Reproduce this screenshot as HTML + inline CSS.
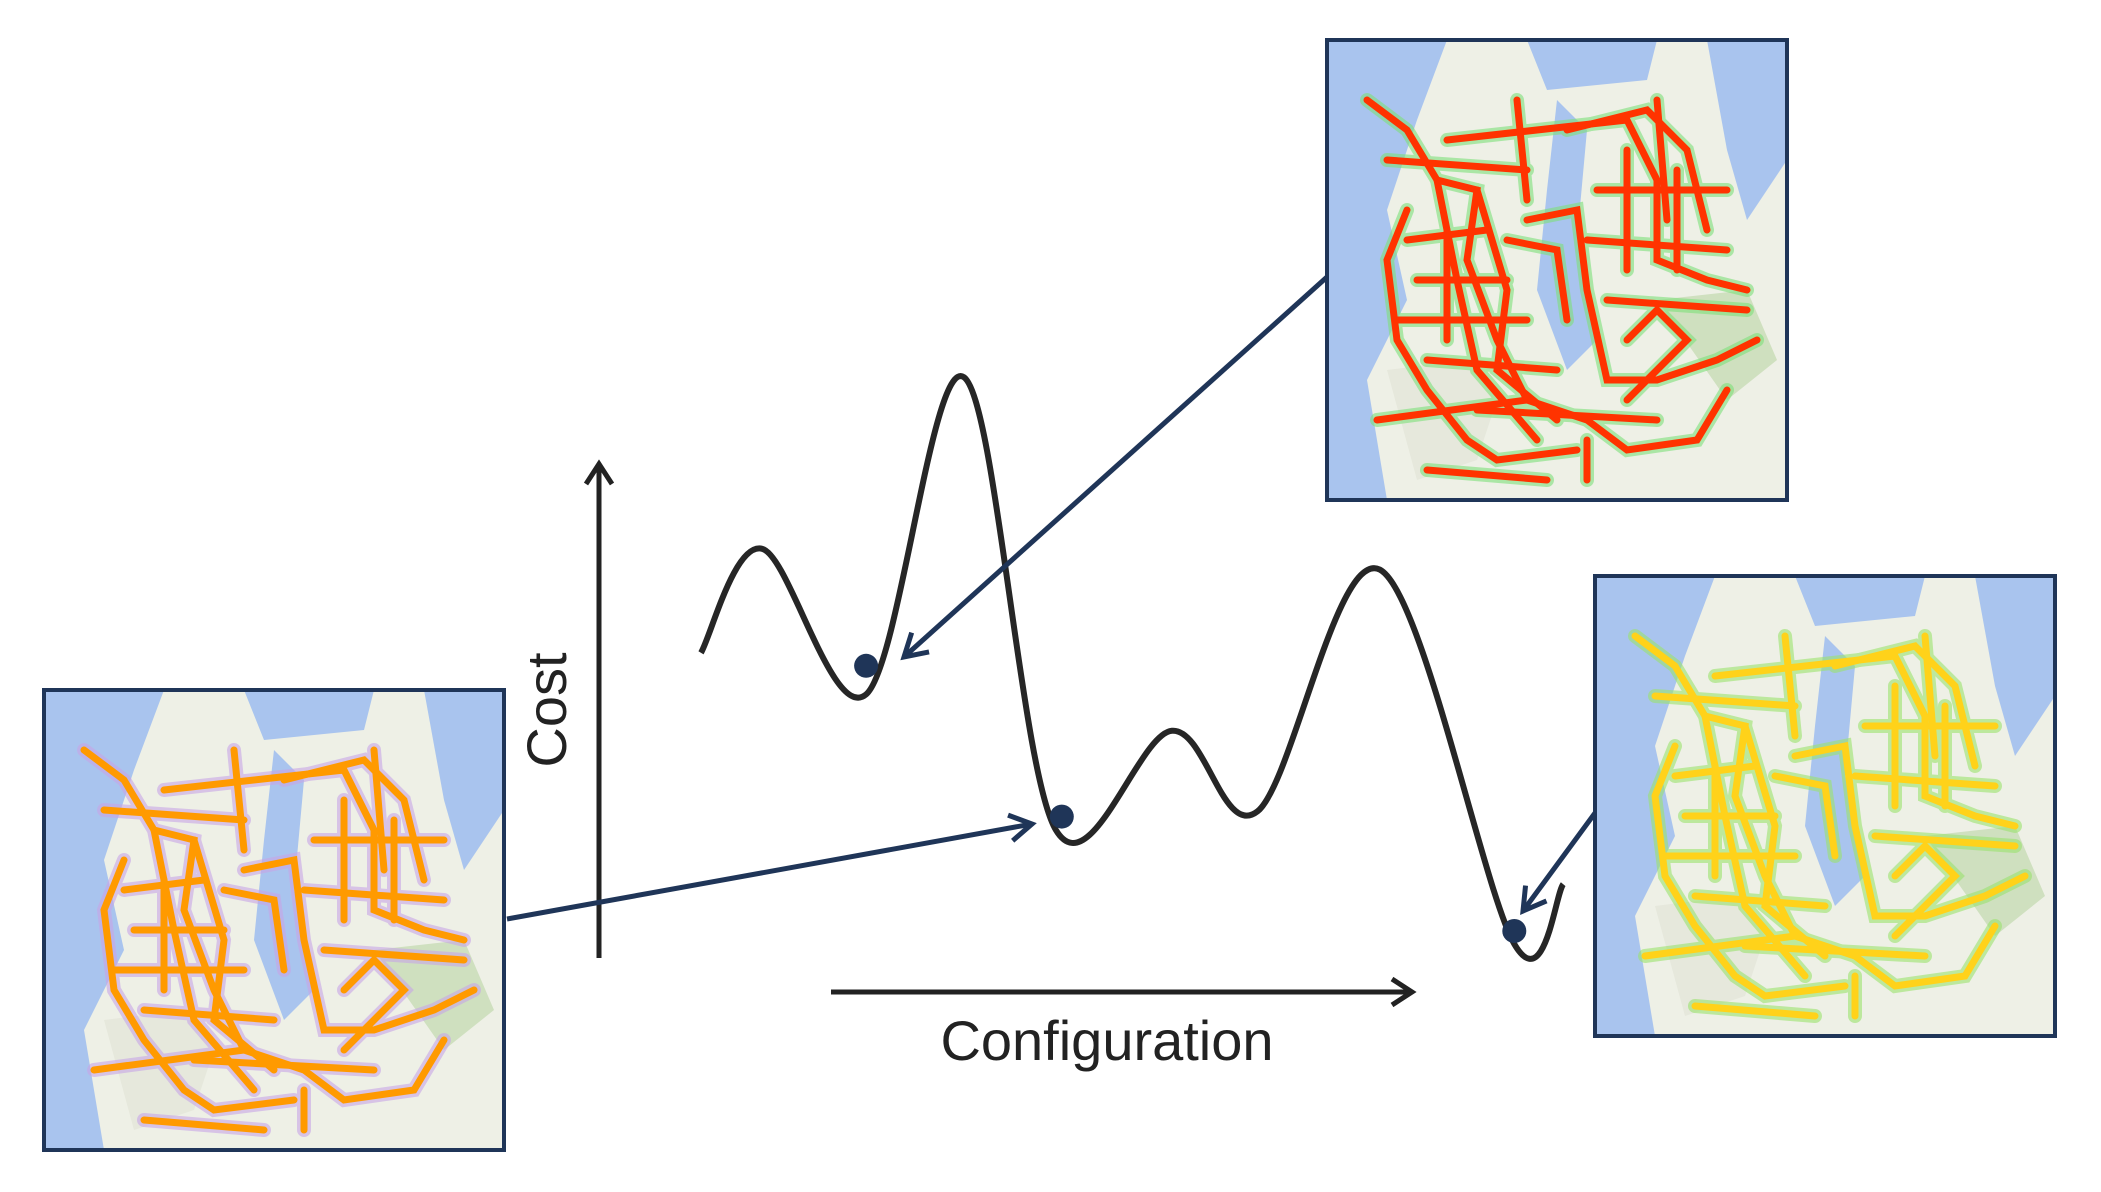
<!DOCTYPE html>
<html><head><meta charset="utf-8"><style>
html,body{margin:0;padding:0;background:#fff;}
svg{display:block;font-family:"Liberation Sans",sans-serif;}
</style></head><body>
<svg id="c" width="2101" height="1192" viewBox="0 0 2101 1192">
<defs>
<marker id="ak" markerWidth="34" markerHeight="34" refX="26" refY="17" orient="auto" markerUnits="userSpaceOnUse" viewBox="0 0 34 34">
<path d="M6,4 L26,17 L6,30" fill="none" stroke="#222" stroke-width="5"/>
</marker>
<marker id="ab" markerWidth="36" markerHeight="36" refX="28" refY="18" orient="auto" markerUnits="userSpaceOnUse" viewBox="0 0 36 36">
<path d="M6,5 L28,18 L6,31" fill="none" stroke="#1f3558" stroke-width="5"/>
</marker>
<g id="mapbase">
<rect x="0" y="0" width="460" height="460" fill="#eef0e6"/>
<path d="M0,0 L120,0 L90,80 L60,170 L80,260 L40,340 L60,460 L0,460 Z" fill="#a9c4ee"/>
<path d="M230,60 L260,90 L250,200 L270,300 L240,330 L210,250 L220,150 Z" fill="#a9c4ee"/>
<path d="M380,0 L460,0 L460,120 L420,180 L400,110 Z" fill="#a9c4ee"/>
<path d="M60,330 L140,320 L170,360 L150,420 L90,440 Z" fill="#e6e8dc"/>
<path d="M330,260 L420,250 L450,320 L400,360 Z" fill="#cfe0bf"/>
<path d="M200,0 L330,0 L320,40 L220,50 Z" fill="#a9c4ee"/>
</g>
<g id="roads" fill="none" stroke-linecap="round">
<path d="M40,60 L80,90 L110,140 L150,150 L140,220 L170,300 L200,360 L260,380 L300,410 L370,400 L400,350"/>
<path d="M80,170 L60,220 L70,300 L100,350 L140,400 L170,420 L250,410"/>
<path d="M120,100 L300,80 L330,140 L330,220 L380,240 L420,250"/>
<path d="M240,90 L320,70 L360,110 L380,190"/>
<path d="M150,150 L180,250 L170,330 L230,380"/>
<path d="M110,140 L130,240 L150,330 L210,400"/>
<path d="M200,180 L250,170 L260,250 L280,340 L330,340 L390,320 L430,300"/>
<path d="M90,240 L180,240 M70,280 L200,280 M100,320 L230,330 M150,370 L330,380"/>
<path d="M300,110 L300,230 M350,130 L350,230 M270,150 L400,150 M260,200 L400,210"/>
<path d="M180,200 L230,210 L240,280 M120,190 L120,300"/>
<path d="M300,300 L330,270 L360,300 L300,360 M260,400 L260,440"/>
<path d="M60,120 L200,130 M80,200 L160,190 M50,380 L200,360 M280,260 L420,270 M330,60 L340,180 M100,430 L220,440 M190,60 L200,160"/>
</g>
</defs>
<g id="plot"></g>
</svg>
<script>
// Cost landscape sample points (configuration, cost) in diagram units
const configX = [0, 1.0, 2.7, 4.3, 5.8, 7.7, 9.1, 11.1, 13.3, 14.1];
const costY   = [3.6, 5.6, 2.8, 8.9, 0.2, 2.1, 0.55, 5.2, -2.0, -0.85];
const minimaX = [2.7, 5.9, 13.3];
const minimaY = [3.35, 0.45, -1.75];

const NS = 'http://www.w3.org/2000/svg';
const svg = document.getElementById('c');
const g = document.getElementById('plot');
const sx = v => 701 + v * 61.15;
const sy = v => 840 - v * 52.0;
function mk(tag, attrs, parent) {
  const e = document.createElementNS(NS, tag);
  for (const k in attrs) e.setAttribute(k, attrs[k]);
  (parent || g).appendChild(e);
  return e;
}

// axes
const ya = mk('line', {x1:599, y1:958, x2:599, y2:464, stroke:'#222', 'stroke-width':5, 'marker-end':'url(#ak)'});


const xa = mk('line', {x1:831, y1:992, x2:1412, y2:992, stroke:'#222', 'stroke-width':5, 'marker-end':'url(#ak)'});


const yt = mk('text', {x:0, y:0, transform:'translate(566,710) rotate(-90)', 'text-anchor':'middle', 'font-size':56, fill:'#222'});
yt.textContent = 'Cost';


const xt = mk('text', {x:1107, y:1060, 'text-anchor':'middle', 'font-size':56, fill:'#222'});
xt.textContent = 'Configuration';



// curve (Catmull-Rom through points)
const P = configX.map((x, i) => [sx(x), sy(costY[i])]);
let d = 'M' + P[0][0] + ',' + P[0][1];
for (let i = 0; i < P.length - 1; i++) {
  const p0 = P[Math.max(0, i - 1)], p1 = P[i], p2 = P[i + 1], p3 = P[Math.min(P.length - 1, i + 2)];
  const c1 = [p1[0] + (p2[0] - p0[0]) / 6, p1[1] + (p2[1] - p0[1]) / 6];
  const c2 = [p2[0] - (p3[0] - p1[0]) / 6, p2[1] - (p3[1] - p1[1]) / 6];
  d += ' C' + c1 + ' ' + c2 + ' ' + p2;
}
const curve = mk('path', {d:d, fill:'none', stroke:'#262626', 'stroke-width':6});



// minima dots
minimaX.forEach((x, i) => {
  const c = mk('circle', {cx:sx(x), cy:sy(minimaY[i]), r:12, fill:'#1f3558'});
  
  
});

// maps
const maps = [
  {x:1327, y:40, color:'#ff3300', glow:'#7ee07a', name:'map-high-cost'},
  {x:1595, y:576, color:'#ffd21a', glow:'#9be36e', name:'map-low-cost'},
  {x:44, y:690, color:'#ff9a00', glow:'#c8a6e6', name:'map-mid-cost'}
];
maps.forEach(m => {
  const grp = mk('g', {transform:'translate(' + m.x + ',' + m.y + ')'});
  
  
  mk('use', {href:'#mapbase'}, grp);
  mk('use', {href:'#roads', stroke:m.glow, 'stroke-width':14, opacity:0.6}, grp);
  mk('use', {href:'#roads', stroke:m.color, 'stroke-width':7}, grp);
  mk('rect', {x:0, y:0, width:460, height:460, fill:'none', stroke:'#1f3558', 'stroke-width':4}, grp);
});

// pointer arrows
const arrows = [[1327,277,904,657],[507,919,1032,824],[1595,813,1523,911]];
arrows.forEach((a, i) => {
  const l = mk('line', {x1:a[0], y1:a[1], x2:a[2], y2:a[3], stroke:'#1f3558', 'stroke-width':5, 'marker-end':'url(#ab)'});
  
  
});
</script>
</body></html>
